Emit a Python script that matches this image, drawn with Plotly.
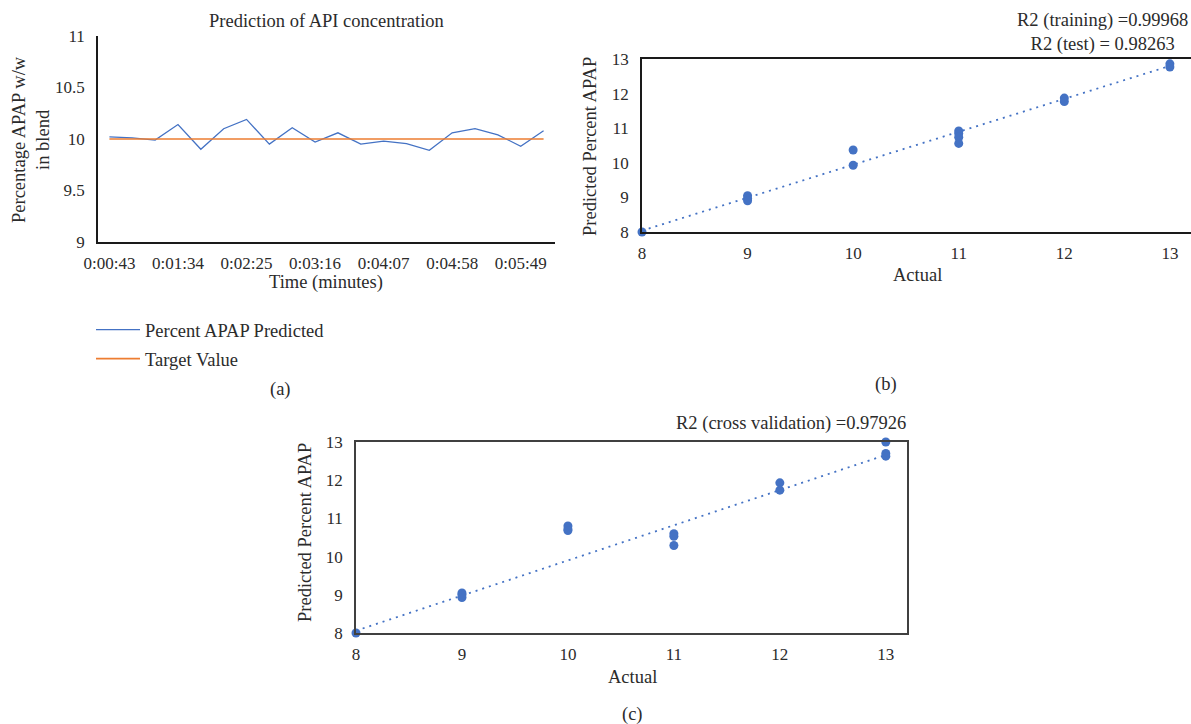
import plotly.graph_objects as go

W, H = 1191, 724

# ---------------- data ----------------
time_labels = ["0:00:43", "0:01:00", "0:01:17", "0:01:34", "0:01:51", "0:02:08", "0:02:25",
               "0:02:42", "0:02:59", "0:03:16", "0:03:33", "0:03:50", "0:04:07", "0:04:24",
               "0:04:41", "0:04:58", "0:05:15", "0:05:32", "0:05:49", "0:06:06"]
apap_predicted = [10.02, 10.01, 9.99, 10.14, 9.90, 10.10, 10.19, 9.95, 10.11, 9.97,
                  10.06, 9.95, 9.98, 9.955, 9.89, 10.06, 10.10, 10.04, 9.93, 10.08]
target_value = [10.0] * len(time_labels)
shown_time_ticks = ["0:00:43", "0:01:34", "0:02:25", "0:03:16", "0:04:07", "0:04:58", "0:05:49"]

b_actual = [8, 9, 9, 9, 10, 10, 11, 11, 11, 11, 12, 12, 13, 13]
b_predicted = [8.0, 9.05, 8.97, 8.9, 10.37, 9.93, 10.92, 10.85, 10.74, 10.56, 11.87, 11.77, 12.86, 12.77]
b_trend_x = [8, 13]
b_trend_y = [8.04, 12.80]

c_actual = [8, 9, 9, 9, 10, 10, 10, 11, 11, 11, 12, 12, 13, 13, 13]
c_predicted = [8.0, 9.05, 9.0, 8.93, 10.8, 10.72, 10.68, 10.6, 10.53, 10.29, 11.93, 11.74, 13.0, 12.7, 12.63]
c_trend_x = [8, 13]
c_trend_y = [8.06, 12.66]

BLUE = "#4472C4"
ORANGE = "#ED7D31"
TXT = "#2b2b2b"
FONT = "Liberation Serif"
FS = 17      # tick labels
FT = 18.5    # titles / legend / R2 labels


def px(x):
    return x / W


def py(y):
    return 1 - y / H


fig = go.Figure()

# ---------------- panel (a) ----------------
fig.add_trace(go.Scatter(x=time_labels, y=apap_predicted, mode="lines", name="Percent APAP Predicted",
                         line=dict(color=BLUE, width=1.3), xaxis="x", yaxis="y",
                         legendgroup="g1", showlegend=True))
fig.add_trace(go.Scatter(x=time_labels, y=target_value, mode="lines", name="Target Value",
                         line=dict(color=ORANGE, width=1.6), xaxis="x", yaxis="y",
                         legendgroup="g2", showlegend=True))

# ---------------- panel (b) ----------------
fig.add_trace(go.Scatter(x=b_trend_x, y=b_trend_y, mode="lines",
                         line=dict(color=BLUE, width=1.8, dash="2px,5px"),
                         xaxis="x2", yaxis="y2", showlegend=False, cliponaxis=False))
fig.add_trace(go.Scatter(x=b_actual, y=b_predicted, mode="markers", marker=dict(color=BLUE, size=9),
                         xaxis="x2", yaxis="y2", showlegend=False, cliponaxis=False))

# ---------------- panel (c) ----------------
fig.add_trace(go.Scatter(x=c_trend_x, y=c_trend_y, mode="lines",
                         line=dict(color=BLUE, width=1.8, dash="2px,5px"),
                         xaxis="x3", yaxis="y3", showlegend=False, cliponaxis=False))
fig.add_trace(go.Scatter(x=c_actual, y=c_predicted, mode="markers", marker=dict(color=BLUE, size=9),
                         xaxis="x3", yaxis="y3", showlegend=False, cliponaxis=False))

tickfont = dict(family=FONT, size=FS, color=TXT)

common_axis = dict(showgrid=False, zeroline=False, ticks="", tickfont=tickfont, automargin=False,
                   showline=True, linewidth=1.5)

fig.update_layout(
    width=W, height=H,
    margin=dict(l=0, r=0, t=0, b=0),
    paper_bgcolor="white", plot_bgcolor="white",
    font=dict(family=FONT, size=FS, color=TXT),
    xaxis=dict(domain=[px(98), px(555)], type="category", range=[-0.5, 19.5],
               tickmode="array", tickvals=shown_time_ticks, ticktext=shown_time_ticks,
               anchor="y", ticklabelstandoff=5, linecolor="#1a1a1a", **common_axis),
    yaxis=dict(domain=[py(242), py(36)], range=[9, 11], dtick=0.5, anchor="x",
               ticklabelstandoff=8, linecolor="#1a1a1a", **common_axis),
    xaxis2=dict(domain=[px(642), px(1191)], range=[8, 13.2], dtick=1, anchor="y2",
                mirror=True, ticklabelstandoff=5, linecolor="#1a1a1a", **common_axis),
    yaxis2=dict(domain=[py(232), py(59)], range=[8, 13], dtick=1, anchor="x2",
                mirror=True, ticklabelstandoff=8, linecolor="#1a1a1a", **common_axis),
    xaxis3=dict(domain=[px(356), px(907)], range=[8, 13.2], dtick=1, anchor="y3",
                mirror=True, ticklabelstandoff=5, linecolor="#404040", **common_axis),
    yaxis3=dict(domain=[py(633), py(442)], range=[8, 13], dtick=1, anchor="x3",
                mirror=True, ticklabelstandoff=8, linecolor="#404040", **common_axis),
    showlegend=True,
    legend=dict(x=px(91), y=py(311), xanchor="left", yanchor="top",
                font=dict(family=FONT, size=FT, color=TXT), bgcolor="rgba(0,0,0,0)",
                tracegroupgap=2, itemwidth=44),
)

annotations = [
    dict(text="Prediction of API concentration", x=px(326), y=py(21)),
    dict(text="Percentage APAP w/w<br>in blend", x=px(31), y=py(140), textangle=-90),
    dict(text="Time (minutes)", x=px(326), y=py(283)),
    dict(text="(a)", x=px(280), y=py(389)),
    dict(text="Predicted Percent APAP", x=px(590), y=py(147), textangle=-90),
    dict(text="Actual", x=px(917), y=py(275)),
    dict(text="R2 (training) =0.99968<br>R2 (test) = 0.98263", x=px(1102), y=py(32)),
    dict(text="(b)", x=px(886), y=py(385)),
    dict(text="Predicted Percent APAP", x=px(305), y=py(533), textangle=-90),
    dict(text="Actual", x=px(632), y=py(677)),
    dict(text="R2 (cross validation) =0.97926", x=px(791), y=py(423)),
    dict(text="(c)", x=px(632), y=py(714)),
]
for a in annotations:
    a.update(xref="paper", yref="paper", showarrow=False, xanchor="center", yanchor="middle",
             font=dict(family=FONT, size=FT, color=TXT))
fig.update_layout(annotations=annotations)

fig.write_html("out.html")
